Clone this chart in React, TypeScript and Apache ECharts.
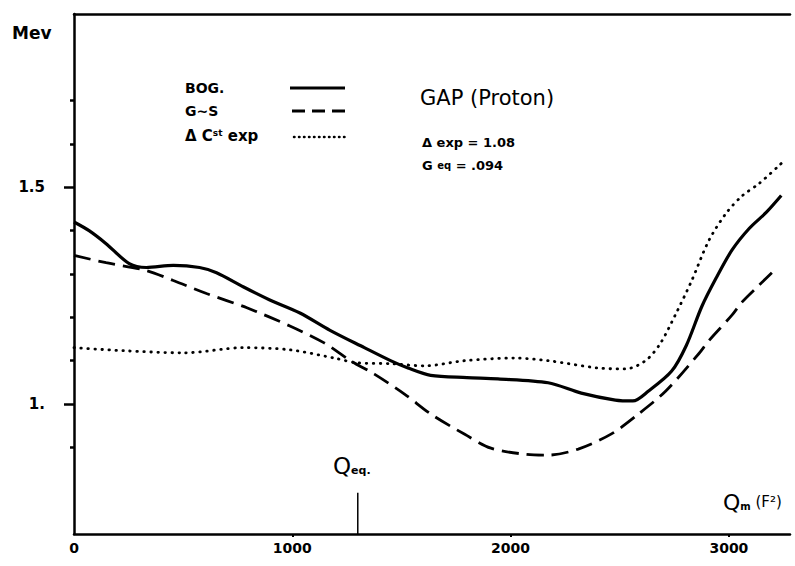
import React, { useEffect, useRef } from "react";
import * as echarts from "echarts";

// ---- data ----
const bogX = [0, 69, 147, 253, 331, 455, 575, 653, 777, 897, 1035, 1173, 1330, 1450, 1530, 1634, 1800, 1942, 2172, 2324, 2480, 2560, 2632, 2738, 2805, 2876, 2941, 3014, 3093, 3171, 3240];
const bogY = [1.42, 1.40, 1.37, 1.324, 1.315, 1.32, 1.315, 1.303, 1.27, 1.24, 1.21, 1.17, 1.13, 1.10, 1.083, 1.066, 1.061, 1.058, 1.049, 1.025, 1.009, 1.007, 1.03, 1.076, 1.135, 1.225, 1.29, 1.355, 1.405, 1.442, 1.481];

const gsX = [0, 147, 331, 455, 607, 792, 989, 1146, 1266, 1376, 1514, 1634, 1790, 1910, 2066, 2172, 2310, 2462, 2586, 2711, 2862, 2908, 3014, 3060, 3140, 3217];
const gsY = [1.343, 1.326, 1.308, 1.285, 1.255, 1.222, 1.18, 1.141, 1.10, 1.069, 1.023, 0.977, 0.93, 0.898, 0.884, 0.882, 0.896, 0.931, 0.977, 1.03, 1.116, 1.146, 1.205, 1.235, 1.275, 1.313];

const dotX = [0, 225, 502, 777, 989, 1192, 1298, 1450, 1606, 1790, 2020, 2172, 2402, 2526, 2618, 2685, 2757, 2830, 2908, 2987, 3060, 3139, 3240];
const dotY = [1.13, 1.123, 1.118, 1.13, 1.125, 1.106, 1.095, 1.093, 1.088, 1.10, 1.106, 1.10, 1.083, 1.081, 1.10, 1.139, 1.208, 1.285, 1.377, 1.44, 1.48, 1.509, 1.555];

const xLabelValues = [0, 1000, 2000, 3000];
const yMajorValues = [1.0, 1.5];
const yMinorValues = [0.9, 1.1, 1.2, 1.3, 1.4, 1.6, 1.7];
const qeqX = 1300;
const qeqTop = 0.795;

const xMin = 0;
const xMax = 3280;
const yMin = 0.7;
const yMax = 1.9;

const zip = (xs: number[], ys: number[]) => xs.map((x, i) => [x, ys[i]]);

const FONT = "DejaVu Sans";

export default function App() {
  const ref = useRef<HTMLDivElement>(null);
  useEffect(() => {
    if (!ref.current) return;
    const chart = echarts.init(ref.current, null, { renderer: "svg" });
    const axisLineStyle = { color: "#000", width: 2.5 };
    chart.setOption({
      animation: false,
      backgroundColor: "#fff",
      grid: { left: 74, right: 5, top: 14, bottom: 32, containLabel: false },
      xAxis: [
        {
          type: "value",
          min: xMin,
          max: xMax,
          position: "bottom",
          axisLine: { show: true, lineStyle: axisLineStyle },
          axisTick: { show: true, customValues: [1000, 2000, 3000], length: 3, lineStyle: { color: "#000", width: 2 } },
          axisLabel: {
            customValues: xLabelValues,
            color: "#000",
            fontFamily: FONT,
            fontWeight: "bold",
            fontSize: 14,
            margin: 7,
            formatter: (v: number) => String(Math.round(v)),
          },
          splitLine: { show: false },
        },
        {
          type: "value",
          min: xMin,
          max: xMax,
          position: "top",
          axisLine: { show: true, lineStyle: axisLineStyle },
          axisTick: { show: false },
          axisLabel: { show: false },
          splitLine: { show: false },
        },
      ],
      yAxis: [
        {
          type: "value",
          min: yMin,
          max: yMax,
          position: "left",
          axisLine: { show: true, lineStyle: axisLineStyle },
          axisTick: { show: true, customValues: yMajorValues, length: 10, lineStyle: { color: "#000", width: 2.5 } },
          axisLabel: {
            customValues: yMajorValues,
            color: "#000",
            fontFamily: FONT,
            fontWeight: "bold",
            fontSize: 15,
            margin: 29,
            formatter: (v: number) => (Math.abs(v - 1) < 1e-6 ? "1." : "1.5"),
          },
          splitLine: { show: false },
        },
        {
          type: "value",
          min: yMin,
          max: yMax,
          position: "left",
          axisLine: { show: false },
          axisTick: { show: true, customValues: yMinorValues, length: 4, lineStyle: { color: "#000", width: 2.5 } },
          axisLabel: { show: false },
          splitLine: { show: false },
        },
      ],
      series: [
        {
          name: "BOG.",
          type: "line",
          data: zip(bogX, bogY),
          smooth: 0.3,
          showSymbol: false,
          lineStyle: { color: "#000", width: 3.2 },
        },
        {
          name: "G~S",
          type: "line",
          data: zip(gsX, gsY),
          smooth: 0.3,
          showSymbol: false,
          lineStyle: { color: "#000", width: 2.8, type: [17, 8] },
        },
        {
          name: "Δ Cst exp",
          type: "line",
          data: zip(dotX, dotY),
          smooth: 0.3,
          showSymbol: false,
          lineStyle: { color: "#000", width: 2.8, type: [0.5, 6.5], cap: "round" },
        },
        {
          name: "Qeq",
          type: "line",
          data: [
            [qeqX, yMin],
            [qeqX, qeqTop],
          ],
          showSymbol: false,
          lineStyle: { color: "#000", width: 1.5 },
        },
      ],
      graphic: [
        { type: "text", style: { text: "Mev", x: 12, y: 33, font: `bold 17px ${FONT}`, fill: "#000", textVerticalAlign: "middle" } },
        // legend
        { type: "text", style: { text: "BOG.", x: 185, y: 88, font: `bold 14px ${FONT}`, fill: "#000", textVerticalAlign: "middle" } },
        { type: "text", style: { text: "G~S", x: 185, y: 111, font: `bold 14px ${FONT}`, fill: "#000", textVerticalAlign: "middle" } },
        {
          type: "text",
          style: {
            text: "{a|Δ C}{s|st}{a| exp}",
            x: 185,
            y: 136,
            fill: "#000",
            textVerticalAlign: "middle",
            rich: {
              a: { font: `bold 15px ${FONT}`, fill: "#000" },
              s: { font: `bold 9px ${FONT}`, fill: "#000", verticalAlign: "top", padding: [0, 0, 7, 0] },
            },
          },
        },
        { type: "line", shape: { x1: 290, y1: 88, x2: 345, y2: 88 }, style: { stroke: "#000", lineWidth: 3 } },
        { type: "line", shape: { x1: 292, y1: 111, x2: 347, y2: 111 }, style: { stroke: "#000", lineWidth: 2.8, lineDash: [13, 7] } },
        { type: "line", shape: { x1: 294, y1: 137, x2: 347, y2: 137 }, style: { stroke: "#000", lineWidth: 2.5, lineDash: [0.5, 4.5], lineCap: "round" } },
        // title block
        { type: "text", style: { text: "GAP (Proton)", x: 420, y: 98, font: `21px ${FONT}`, fill: "#000", textVerticalAlign: "middle" } },
        { type: "text", style: { text: "Δ exp = 1.08", x: 422, y: 142, font: `bold 13px ${FONT}`, fill: "#000", textVerticalAlign: "middle" } },
        {
          type: "text",
          style: {
            text: "{a|G }{s|eq}{a| = .094}",
            x: 422,
            y: 165,
            fill: "#000",
            textVerticalAlign: "middle",
            rich: {
              a: { font: `bold 13px ${FONT}`, fill: "#000" },
              s: { font: `bold 10px ${FONT}`, fill: "#000" },
            },
          },
        },
        // Qeq annotation
        {
          type: "text",
          style: {
            text: "{q|Q}{s|eq.}",
            x: 333,
            y: 466,
            fill: "#000",
            textVerticalAlign: "middle",
            rich: {
              q: { font: `23px ${FONT}`, fill: "#000" },
              s: { font: `bold 11px ${FONT}`, fill: "#000", padding: [8, 0, 0, 0] },
            },
          },
        },
        // x axis title
        {
          type: "text",
          style: {
            text: "{q|Q}{s|m}{p| (F²)}",
            x: 723,
            y: 502,
            fill: "#000",
            textVerticalAlign: "middle",
            rich: {
              q: { font: `22px ${FONT}`, fill: "#000" },
              s: { font: `bold 10px ${FONT}`, fill: "#000", padding: [8, 0, 0, 0] },
              p: { font: `15px ${FONT}`, fill: "#000" },
            },
          },
        },
      ],
    });
    return () => chart.dispose();
  }, []);
  return <div ref={ref} style={{ position: "fixed", left: 0, top: 0, width: 795, height: 566 }} />;
}
